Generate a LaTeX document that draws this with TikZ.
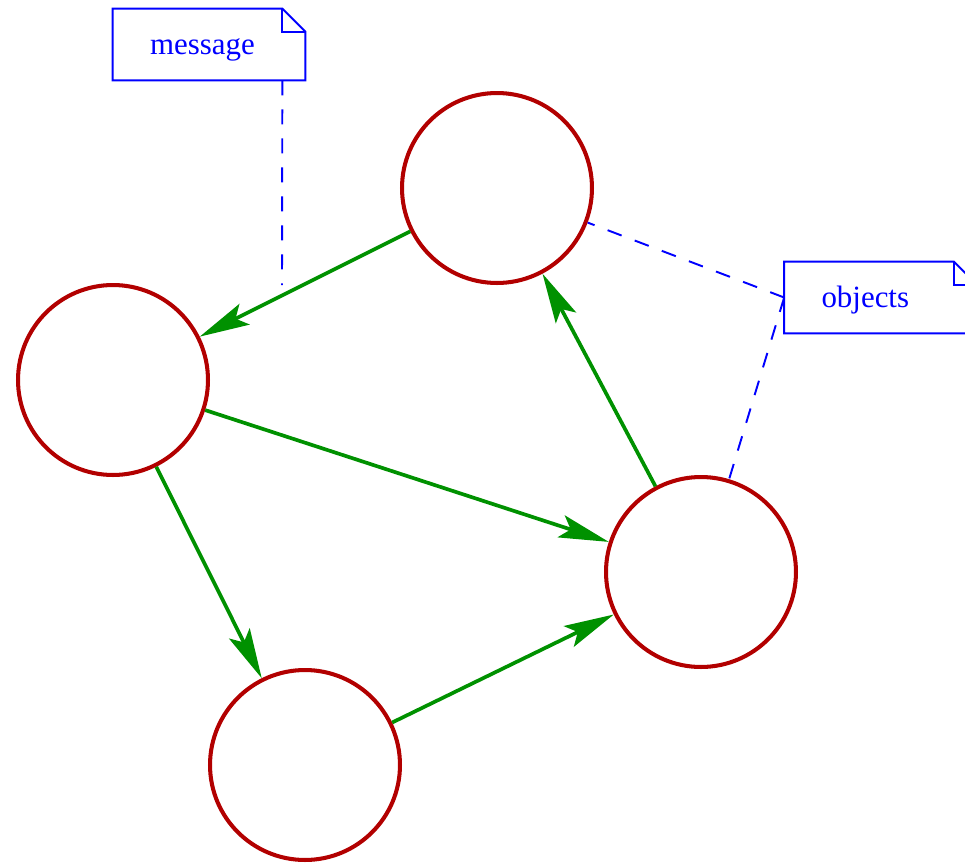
\documentclass[tikz,border=0pt]{standalone}
\usepackage{fontspec}
\setmainfont{Liberation Serif}
\usepackage{tikz}
\usetikzlibrary{arrows.meta}
\definecolor{objred}{RGB}{178,0,0}
\definecolor{msggreen}{RGB}{0,145,0}
\tikzset{object/.style={draw=objred,line width=2.3pt,circle,minimum size=3.8cm,inner sep=0pt}}
\tikzset{flow/.style={draw=msggreen,line width=2.1pt,-{Stealth[length=1cm,width=0.46cm,inset=0.2cm]}}}
\tikzset{link/.style={draw=blue,line width=1.1pt,dash pattern=on 0.3cm off 0.28cm}}
\tikzset{note/.style={text=blue,font=\fontsize{17.6}{20}\selectfont,text width=2.36cm,align=left,
    text height=14pt,text depth=3pt,inner xsep=0.74cm,inner ysep=0pt,minimum height=1.42cm}}
\tikzset{notedraw/.style={draw=blue,line width=1.1pt}}
% outline of a note, with its folded corner
\newcommand{\notebox}[1]{%
    \draw[notedraw] (#1.south west) -- (#1.north west)
        -- ([xshift=-0.46cm]#1.north east) -- ([yshift=-0.46cm]#1.north east)
        -- (#1.south east) -- cycle;
    \draw[notedraw] ([xshift=-0.46cm]#1.north east) |- ([yshift=-0.46cm]#1.north east);}

\begin{document}
\begin{tikzpicture}[x=0.02cm,y=-0.02cm]
    \useasboundingbox (0,0) rectangle (965,863);
    \node[object] (top) at (497,188) {};
    \node[object] (left) at (113,380) {};
    \node[object] (bottom) at (305,765) {};
    \node[object] (right) at (701,572) {};
        \path[flow] (top) -- (left);
        \path[flow] (left) -- (right);
        \path[flow] (left) -- (bottom);
        \path[flow] (bottom) -- (right);
        \path[flow] (right) -- (top);
    \node[note] (msg) at (209,44.5) {message};
    \notebox{msg}
    \node[note] (obj) at (880.5,297.5) {objects};
    \notebox{obj}
    \coordinate (msgend) at (282,285);
        \path[link] ([xshift=-0.46cm]msg.south east) -- (msgend);
        \path[link] (obj.west) -- (top);
        \path[link] (obj.west) -- (right);
\end{tikzpicture}
\end{document}
